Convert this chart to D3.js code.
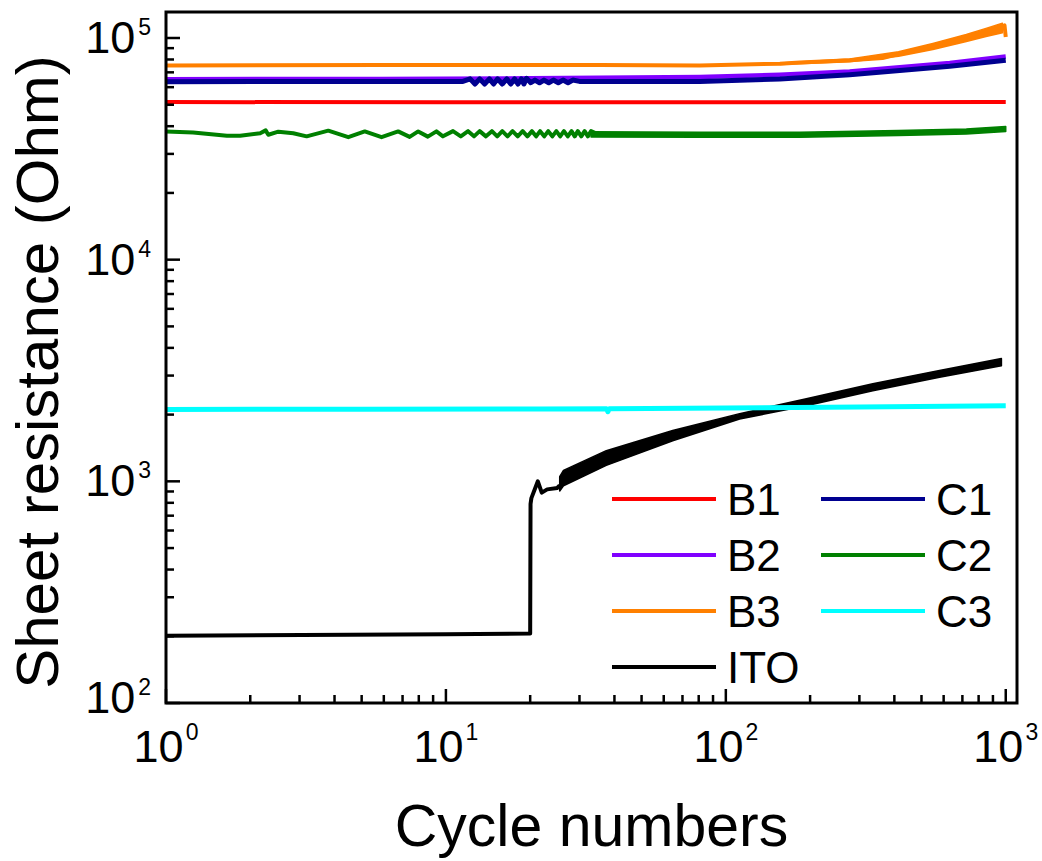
<!DOCTYPE html>
<html>
<head>
<meta charset="utf-8">
<script src="https://cdn.jsdelivr.net/npm/d3@7"></script>
<style>
  body { margin: 0; background: #fff; }
  text { font-family: "Liberation Sans", Arial, sans-serif; fill: #000; }
</style>
</head>
<body>
<svg id="canvas" width="1042" height="861"></svg>
<script>
//sheet resistance vs bending cycles, log-log

//---- data (cycle number, resistance in Ohm) ----
var b1Cycle = [1, 10, 100, 1000];
var b1Ohm   = [51400, 51300, 51300, 51400];

var b2Cycle = [1, 5.8, 20, 80.7, 156, 277, 631, 1000];
var b2Ohm   = [65200, 65300, 65800, 66700, 68300, 70700, 77100, 82600];

var b3Cycle = [1, 5.8, 35.4, 80.7, 156, 184, 277, 363, 414, 549, 723, 850, 960, 990, 1000];
var b3Ohm   = [75200, 75500, 75500, 75200, 76600, 77600, 79300, 81200, 84700, 91600, 100000, 106000, 111000, 114000, 101000];
//noise envelope of B3 at high cycle numbers
var b3BandCycle = [156, 277, 414, 549, 723, 850, 973];
var b3BandLo    = [76000, 78200, 82800, 88800, 96500, 101500, 105500];
var b3BandHi    = [77200, 80500, 86600, 94500, 103700, 110500, 116500];

var c1Cycle = [1, 5.8, 11.5, 12.2, 12.7, 13.2, 13.75, 14.3, 14.8, 15.3, 15.9, 16.5, 17.05, 17.6, 18.1, 18.6, 19.0, 19.4,
               20.1, 20.8, 21.6, 22.4, 23.3, 24.2, 25.2, 26.2, 27.3, 28.4, 30, 80.7, 156, 277, 631, 1000];
var c1Ohm   = [63500, 63700, 63700, 65400, 62000, 65400, 62000, 65400, 62000, 65400, 62000, 65400, 62000, 65400, 62000, 65400, 62000, 65800,
               62800, 64600, 62800, 64600, 62800, 64600, 62800, 64600, 62800, 64600, 63700, 63700, 65300, 68300, 74500, 79300];

var c2Cycle = [1, 1.25, 1.65, 1.84, 2.17, 2.27, 2.32, 2.52, 2.85, 3.18, 3.8, 4.48, 5.13, 5.89, 6.75, 7.42, 7.96, 8.62, 9.25, 9.76,
               10.6, 11.3, 12.0, 12.6, 13.2, 13.9, 14.6, 15.25, 15.9, 16.6, 17.3, 18.05, 18.8, 19.55, 20.3, 21.0, 21.7, 22.45,
               23.2, 24.0, 24.8, 25.6, 26.4, 27.25, 28.1, 28.85, 29.6, 30.45, 31.3, 32.15, 33.0, 35, 80.7, 184, 414, 723, 1000];
var c2Ohm   = [37900, 37500, 36200, 36200, 37200, 38300, 36600, 37800, 37200, 36000, 38200, 35700, 37900, 35700, 37900, 35800, 37900, 35900, 37900, 36000,
               38000, 36000, 38000, 36000, 38000, 36000, 38000, 36000, 38000, 36000, 38000, 36000, 38000, 36000, 38000, 36000, 38000, 36000,
               38000, 36000, 38000, 36000, 38000, 36000, 38000, 36000, 38000, 36000, 38000, 36000, 38000, 36800, 36630, 36630, 37280, 37900, 38860];
var c2BandCycle = [33, 80.7, 184, 414, 723, 1000];
var c2BandLo    = [35800, 35700, 35700, 36300, 36900, 37900];
var c2BandHi    = [37800, 37600, 37600, 38300, 38900, 39900];

var c3Cycle = [1, 5, 21.6, 37.5, 37.9, 38.3, 100, 300, 1000];
var c3Ohm   = [2110, 2115, 2121, 2125, 2060, 2125, 2140, 2165, 2194];

var itoCycle = [1, 10, 20, 20.06, 20.2, 21.3, 22.0, 23, 25, 25.5];
var itoOhm   = [201, 204, 206, 790, 840, 1000, 889, 920, 934, 960];
//ITO oscillates strongly after ~25 cycles: upper/lower envelope
var itoBandCycle = [25.5, 26.3, 37.4, 64.6, 112, 194, 335, 580, 965];
var itoBandLo    = [905, 955, 1180, 1525, 1910, 2195, 2565, 2945, 3320];
var itoBandHi    = [1050, 1120, 1375, 1695, 2020, 2360, 2755, 3165, 3580];

var xDecades = [1, 10, 100, 1000];
var yDecades = [100, 1000, 10000, 100000];

//---- svg & scales ----
var svg = d3.select("#canvas");
var mLeft = 166, mRight = 1017, mTop = 12, mBottom = 703;

var xScale = d3.scaleLog().domain([1, 1097]).range([mLeft, mRight]);
var yScale = d3.scaleLog().domain([100, 131000]).range([mBottom, mTop]);

function zip(c, v) { return c.map(function(d, i) { return [d, v[i]]; }); }

var series = [
	{name: "ITO", color: "#000000", width: 4, pts: zip(itoCycle, itoOhm),
	 band: {c: itoBandCycle, lo: itoBandLo, hi: itoBandHi}},
	{name: "B1", color: "#ff0000", width: 4, pts: zip(b1Cycle, b1Ohm)},
	{name: "B2", color: "#8000ff", width: 4.5, pts: zip(b2Cycle, b2Ohm)},
	{name: "B3", color: "#ff8000", width: 4, pts: zip(b3Cycle, b3Ohm),
	 band: {c: b3BandCycle, lo: b3BandLo, hi: b3BandHi}},
	{name: "C1", color: "#000090", width: 5, pts: zip(c1Cycle, c1Ohm)},
	{name: "C2", color: "#008000", width: 4, pts: zip(c2Cycle, c2Ohm),
	 band: {c: c2BandCycle, lo: c2BandLo, hi: c2BandHi}},
	{name: "C3", color: "#00ffff", width: 5, pts: zip(c3Cycle, c3Ohm)}
];

svg.append("clipPath").attr("id", "plotClip")
	.append("rect")
	.attr("x", mLeft).attr("y", mTop)
	.attr("width", mRight - mLeft).attr("height", mBottom - mTop);

var plot = svg.append("g").attr("clip-path", "url(#plotClip)");

var line = d3.line()
	.x(function(d) { return xScale(d[0]); })
	.y(function(d) { return yScale(d[1]); });

var band = d3.area()
	.x(function(d) { return xScale(d[0]); })
	.y0(function(d) { return yScale(d[1]); })
	.y1(function(d) { return yScale(d[2]); });

series.forEach(function(s) {
	if (s.band) {
		var bp = s.band.c.map(function(c, i) { return [c, s.band.lo[i], s.band.hi[i]]; });
		plot.append("path")
			.attr("d", band(bp))
			.attr("fill", s.color)
			.attr("stroke", s.color)
			.attr("stroke-width", 1.5)
			.attr("stroke-linejoin", "round");
	}
	plot.append("path")
		.attr("d", line(s.pts))
		.attr("fill", "none")
		.attr("stroke", s.color)
		.attr("stroke-width", s.width)
		.attr("stroke-linejoin", "round");
});

//---- ticks (inward) ----
function minors(decs, lo, hi) {
	var out = [];
	decs.forEach(function(d) {
		for (var k = 2; k <= 9; k++) if (d * k > lo && d * k < hi) out.push(d * k);
	});
	return out;
}

var xTicks = xDecades.map(function(d) { return {v: d, len: 14}; })
	.concat(minors(xDecades, 1, 1097).map(function(d) { return {v: d, len: 8}; }));
svg.selectAll("line.xt")
	.data(xTicks).enter().append("line")
	.attr("class", "xt")
	.attr("x1", function(d) { return xScale(d.v); })
	.attr("x2", function(d) { return xScale(d.v); })
	.attr("y1", mBottom)
	.attr("y2", function(d) { return mBottom - d.len; })
	.attr("stroke", "#000")
	.attr("stroke-width", 2.5);

var yTicks = yDecades.map(function(d) { return {v: d, len: 14}; })
	.concat(minors(yDecades, 100, 131000).map(function(d) { return {v: d, len: 8}; }));
svg.selectAll("line.yt")
	.data(yTicks).enter().append("line")
	.attr("class", "yt")
	.attr("y1", function(d) { return yScale(d.v); })
	.attr("y2", function(d) { return yScale(d.v); })
	.attr("x1", mLeft)
	.attr("x2", function(d) { return mLeft + d.len; })
	.attr("stroke", "#000")
	.attr("stroke-width", 2.5);

//frame
svg.append("rect")
	.attr("x", mLeft).attr("y", mTop)
	.attr("width", mRight - mLeft).attr("height", mBottom - mTop)
	.attr("fill", "none").attr("stroke", "#000").attr("stroke-width", 3);

//tick labels 10^n
xDecades.forEach(function(d) {
	var t = svg.append("text")
		.attr("x", xScale(d)).attr("y", 762)
		.attr("text-anchor", "middle")
		.style("font-size", "45px");
	t.append("tspan").text("10");
	t.append("tspan").attr("dx", 2).attr("dy", -22).style("font-size", "23px").text(Math.round(Math.log10(d)));
});

yDecades.forEach(function(d) {
	var t = svg.append("text")
		.attr("x", 151).attr("y", yScale(d) + 15 - (d === 100 ? 5 : 0))
		.attr("text-anchor", "end")
		.style("font-size", "45px");
	t.append("tspan").text("10");
	t.append("tspan").attr("dx", 3).attr("dy", -18).style("font-size", "23px").text(Math.round(Math.log10(d)));
});

//axis titles
svg.append("text")
	.attr("x", (mLeft + mRight) / 2).attr("y", 846)
	.attr("text-anchor", "middle")
	.style("font-size", "59px")
	.text("Cycle numbers");

svg.append("text")
	.attr("transform", "translate(58," + 372 + ") rotate(-90)")
	.attr("text-anchor", "middle")
	.style("font-size", "60px")
	.text("Sheet resistance (Ohm)");

//---- legend: B1 B2 B3 ITO | C1 C2 C3 ----
var legendCols = [["B1", "B2", "B3", "ITO"], ["C1", "C2", "C3"]];
var colX = [612, 821];
legendCols.forEach(function(col, ci) {
	col.forEach(function(name, ri) {
		var s = series.find(function(e) { return e.name === name; });
		var ly = 499 + ri * 56;
		svg.append("line")
			.attr("x1", colX[ci]).attr("x2", colX[ci] + 104)
			.attr("y1", ly).attr("y2", ly)
			.attr("stroke", s.color).attr("stroke-width", 4);
		svg.append("text")
			.attr("x", colX[ci] + 115).attr("y", ly + 16)
			.style("font-size", "44px")
			.text(name);
	});
});
</script>
</body>
</html>
